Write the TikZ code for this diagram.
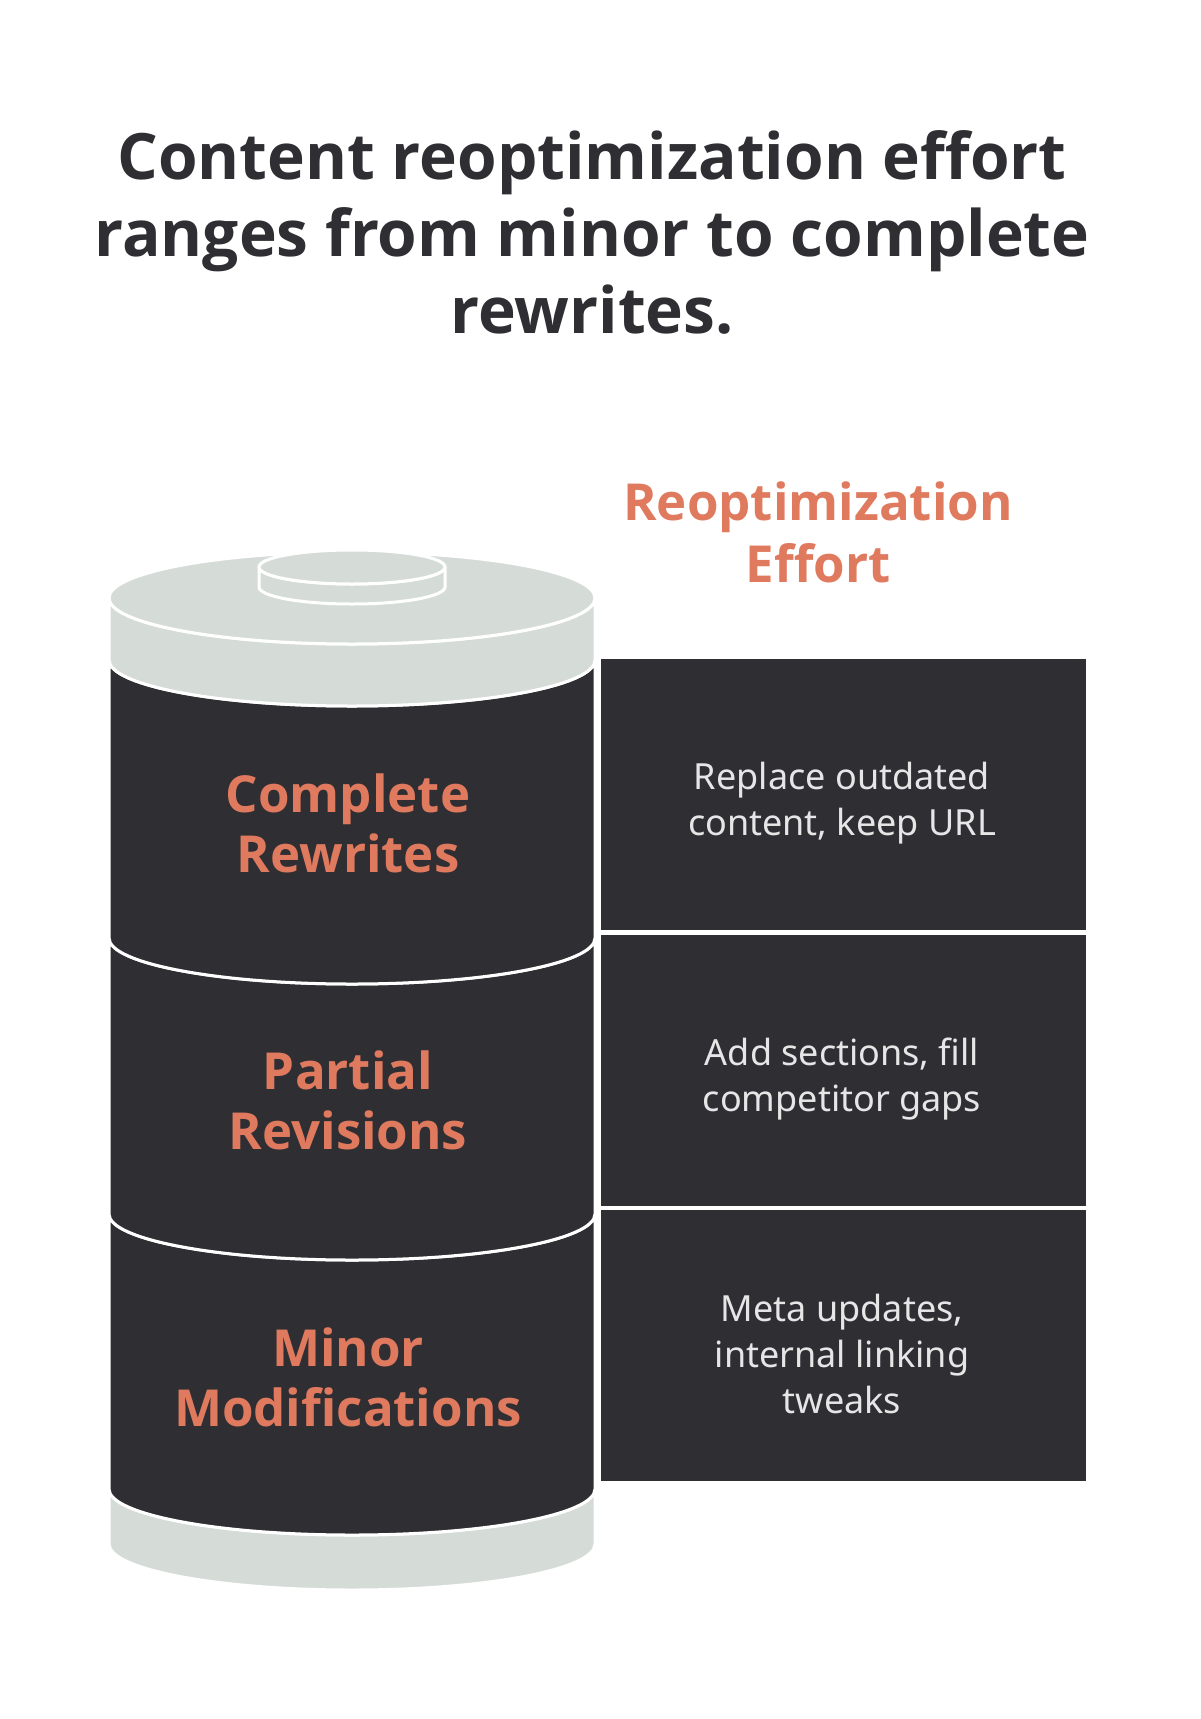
\documentclass[tikz,border=0pt]{standalone}
\usepackage{fontspec}
\setmainfont{Open Sans}
\newfontfamily\bodyf{Noto Sans}
\definecolor{dk}{HTML}{2F2E33}
\definecolor{org}{HTML}{E07A5F}
\definecolor{gr}{HTML}{D5DCD8}
\definecolor{lt}{HTML}{E6E6E6}
\begin{document}
\begin{tikzpicture}[x=1pt,y=1pt,
  seg/.style={draw=white,line width=3pt,line join=round},
  lab/.style={text=org,font=\fontsize{51}{60}\selectfont\bfseries,align=center},
  desc/.style={text=lt,font=\bodyf\fontsize{36}{46}\selectfont,align=center},
  box/.style={fill=dk,draw=white,line width=3pt}]
\useasboundingbox (0,0) rectangle (1200,-1719);
\node[font=\fontsize{64}{77}\selectfont\bfseries,text=dk,align=center] (title) at (592,-232)
 {Content reoptimization effort\\ranges from minor to complete\\rewrites.};
\node[lab,font=\fontsize{51}{62}\selectfont\bfseries] (hdr) at (818,-532) {Reoptimization\\Effort};
\newcommand{\piece}[3]{\path[seg,fill=#3] (109,-#1) -- (109,-#2) arc[start angle=180,end angle=360,x radius=243,y radius=46] -- (595,-#1) arc[start angle=0,end angle=-180,x radius=243,y radius=46] -- cycle;}
\piece{1489}{1544}{gr}
\piece{1214}{1489}{dk}
\piece{938}{1214}{dk}
\piece{660}{938}{dk}
\piece{598}{660}{gr}
\path[seg,fill=gr] (352,-598) ellipse[x radius=243,y radius=46];
\path[seg,fill=gr] (259,-567) -- (259,-587) arc[start angle=180,end angle=360,x radius=93,y radius=17] -- (445,-567) arc[start angle=0,end angle=-180,x radius=93,y radius=17] -- cycle;
\path[seg,fill=gr] (352,-567) ellipse[x radius=93,y radius=17];
\node[box,minimum width=488,minimum height=274,inner sep=0] (b1) at (843,-794.5) {};
\node[box,minimum width=488,minimum height=274,inner sep=0] (b2) at (843,-1070.5) {};
\node[box,minimum width=488,minimum height=274,inner sep=0] (b3) at (843,-1345.5) {};
\node[lab] (l1) at (348,-823) {Complete\\Rewrites};
\node[lab] (l2) at (348,-1100) {Partial\\Revisions};
\node[lab] (l3) at (348,-1377) {Minor\\Modifications};
\node[desc] (d1) at (842,-803) {Replace outdated\\content, keep URL};
\node[desc] (d2) at (842,-1079) {Add sections, fill\\competitor gaps};
\node[desc] (d3) at (842,-1354) {Meta updates,\\internal linking\\tweaks};
\end{tikzpicture}
\end{document}
